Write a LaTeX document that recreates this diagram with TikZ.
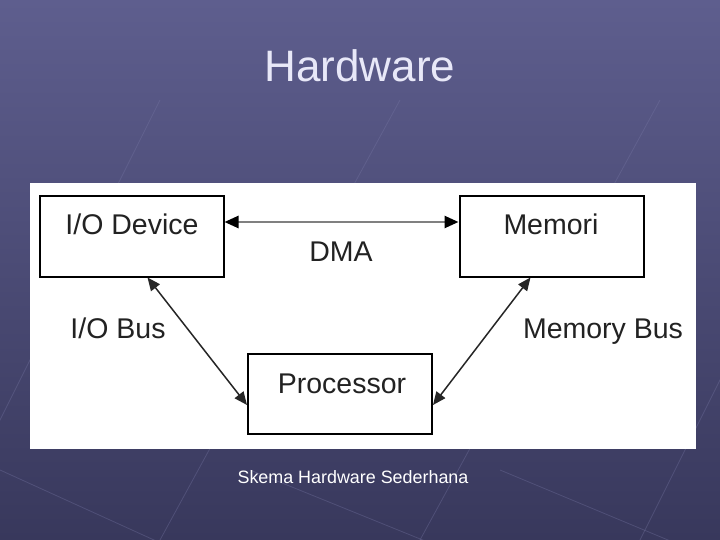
\documentclass[tikz,border=0pt]{standalone}
\usepackage{fontspec}
\setmainfont{Liberation Sans}
\usetikzlibrary{arrows.meta,calc}
\definecolor{bgtop}{RGB}{94,94,142}
\definecolor{bgbot}{RGB}{56,56,92}
\definecolor{titlecol}{RGB}{232,232,248}
\definecolor{inktext}{RGB}{34,34,34}
\definecolor{dmagray}{RGB}{128,128,128}
\definecolor{decoline}{RGB}{120,120,165}
\tikzset{
  boxnode/.style={draw=black, line width=2pt, fill=white, minimum width=184pt, minimum height=80pt, inner sep=0pt},
  boxtext/.style={text=inktext, font=\fontsize{28.5}{30}\selectfont, inner sep=0pt, anchor=base},
  buslabel/.style={text=inktext, font=\fontsize{28.5}{30}\selectfont, inner sep=0pt, anchor=base},
  busarrow/.style={draw=black!85, line width=1.5pt, {Triangle[length=13pt,width=11pt]}-{Triangle[length=13pt,width=11pt]}},
  dmaarrow/.style={draw=dmagray, line width=2.5pt, {Triangle[length=14pt,width=12pt,color=black]}-{Triangle[length=14pt,width=12pt,color=black]}},
  decostyle/.style={draw=decoline, line width=0.8pt, opacity=0.35},
}
\begin{document}
\begin{tikzpicture}[x=1pt,y=-1pt]
\useasboundingbox (0,0) rectangle (720,540);
\shade[top color=bgtop, bottom color=bgbot] (0,0) rectangle (720,540);
% faint background decoration
\foreach \xa/\xb in {-60/160, 160/400, 420/660, 640/860}{
  \draw[decostyle] (\xa,540) -- (\xb,100);
}
\foreach \xa/\xb in {0/330, 250/620, 500/860}{
  \draw[decostyle] (\xa,470) -- (\xb,620);
}
% title
\node[text=titlecol, font=\fontsize{44}{48}\selectfont, inner sep=0pt, anchor=base] (title) at (360,82) {Hardware};
% white panel
\fill[white] (30,183) rectangle (696,449);
% boxes
\node[boxnode] (io) at (131.5,236.5) {};
\node[boxnode] (mem) at (551.5,236.5) {};
\node[boxnode] (proc) at (340,394) {};
\node[boxtext] (iotext) at (132,235) {I/O Device};
\node[boxtext] (memtext) at (551,235) {Memori};
\node[boxtext] (proctext) at (342,393) {Processor};
% connectors
\coordinate (dmalevel) at (0,222);
\draw[dmaarrow] (io.east |- dmalevel) -- (mem.west |- dmalevel);
\draw[busarrow] ($(io.south)+(16,0)$) -- ($(proc.west)+(0,11)$);
\draw[busarrow] ($(mem.south)+(-21,0)$) -- ($(proc.east)+(0,11)$);
% labels
\node[buslabel] (dmalabel) at (341,261) {DMA};
\node[buslabel] (iobus) at (118,338) {I/O Bus};
\node[buslabel] (membus) at (603,338) {Memory Bus};
% caption
\node[text=white, font=\fontsize{17.9}{20}\selectfont, inner sep=0pt, anchor=base] (caption) at (353,483) {Skema Hardware Sederhana};
\end{tikzpicture}
\end{document}
